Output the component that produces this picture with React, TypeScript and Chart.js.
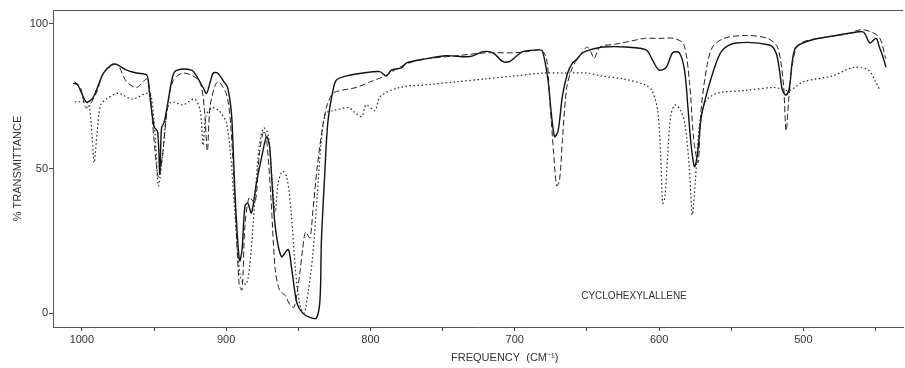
import React, { useEffect, useRef } from "react";
import { Chart, registerables } from "chart.js";

Chart.register(...registerables);

// Frequency (cm^-1) and % transmittance for each trace
const solidFreq = [1006, 1003, 997, 993, 990, 985, 979, 976, 969, 962, 955, 953.6, 950, 947.5, 946, 944.8, 943, 941, 937, 934, 924, 920.6, 916, 913.6, 911, 909, 906, 901, 899, 896.5, 895.4, 894, 892, 890.6, 889, 887, 885, 882.5, 879, 875, 872, 870, 868.6, 866, 861.7, 857, 854.8, 851, 847, 842, 837.5, 835, 834, 831.7, 829.6, 826, 823.6, 816.7, 805, 793.6, 789, 785.5, 778.6, 775, 761, 747.5, 731, 722, 715, 708.5, 703.6, 699, 694.5, 683, 680.7, 677, 674.7, 672.4, 670, 667, 663.4, 660, 657.6, 653, 648, 639, 623, 609, 604.6, 600, 595, 590.6, 586, 582.4, 580, 578, 575.5, 573.4, 571, 567.5, 560.5, 556, 546.7, 523.5, 519, 516.6, 514.5, 512, 509.7, 507.6, 505, 493.8, 477.4, 461, 457.8, 454, 449.6, 447.4, 445, 442.8];
const solidT = [79.5, 79, 73, 74, 77, 83, 86, 86, 84, 83, 82.3, 78, 64.5, 62.7, 48, 64, 66, 71, 82, 84, 84, 82, 78, 76, 80, 83, 83, 79.6, 78, 70, 60, 42.5, 25, 18, 22, 37, 38, 34.6, 45, 55, 61, 58, 48, 30, 19.5, 22, 16, 3.5, 0, -1.5, -1.7, 4.5, 25, 48, 65.7, 77, 80.6, 82, 83, 83.5, 82, 84, 84.8, 86.5, 88, 89, 88.7, 90.4, 90, 87, 87, 88.8, 90.4, 91, 90.4, 80.6, 69, 61, 63, 75, 83, 86.5, 87.5, 90, 91, 92, 92, 91, 87.5, 84, 85, 90, 90, 84, 71, 59, 50.6, 55, 67, 75, 86.5, 91, 93.4, 92.7, 90, 84, 77, 75.4, 78, 87.5, 92, 94.5, 96, 97.3, 96.9, 93.4, 95, 92, 88.7, 85];

const dashedFreq = [1005, 1001, 997, 990, 985, 976, 969, 962, 955, 953, 950, 947, 944, 941, 937, 930, 920, 917, 915, 913, 911, 906, 900, 897, 894, 891, 889, 887, 884, 880, 877, 874, 872, 869, 866, 863, 859, 856, 853, 850, 847, 845, 842, 840, 837, 833, 830, 826, 820, 810, 800, 790, 780, 770, 760, 740, 720, 700, 690, 682, 678, 676, 673, 671, 669, 667, 664, 660, 655, 650, 647, 645, 641, 630, 620, 610, 600, 590, 583, 579, 576, 573, 571, 567, 563, 555, 540, 525, 518, 514, 512, 510, 507, 503, 490, 470, 460, 452, 447, 443];
const dashedT = [80, 78, 71, 76, 83, 86, 80, 78, 81, 77, 60, 47, 55, 70, 80, 83, 81, 78, 70, 56, 72, 80, 76, 66, 40, 10, 8, 30, 40, 38, 55, 63, 60, 40, 15, 8, 6, 3, 2, 10, 22, 28, 26, 35, 50, 65, 72, 76, 77, 78, 80, 82, 85, 87, 88, 89, 90, 90, 90.5, 91, 88, 75, 55, 44, 46, 60, 78, 85, 89, 92, 90, 88, 92, 93, 94, 95, 95, 95, 93, 80, 60, 52, 70, 85, 92, 95, 96, 95, 92, 80, 63, 75, 88, 93, 95, 96.5, 98, 97, 95, 88];

const dottedFreq = [1005, 997, 995, 993, 991.5, 989.5, 987, 983, 975, 965, 955, 952, 949, 947, 944, 941, 938, 930, 922, 918, 916, 914, 910, 905, 900, 897, 894, 890, 886, 883, 880, 877, 874, 871, 868, 866, 864, 861, 858, 855, 852, 849, 846, 843, 840, 837, 834, 831, 826, 815, 810, 806, 803, 797, 793, 780, 760, 740, 720, 700, 680, 665, 650, 640, 625, 610, 605, 601, 599, 597.5, 596, 594, 592, 589, 585, 582, 579, 577, 575, 572, 568, 560, 540, 520, 510, 500, 480, 465, 455, 450, 447];
const dottedT = [73, 73, 72, 62, 52, 62, 72, 74, 76, 74, 76, 75, 60, 44, 55, 70, 73, 72, 74, 70, 58, 68, 71, 70, 66, 55, 35, 12, 10, 20, 40, 58, 64, 62, 45, 35, 45, 49, 47, 35, 15, 3, 0, 8, 20, 40, 60, 69, 70, 71, 69, 68, 72, 70, 75, 78, 79, 80, 81, 82, 83, 83, 83, 82, 81, 79, 77, 70, 55, 38, 40, 55, 68, 72, 70, 65, 50, 34, 45, 65, 73, 76, 77, 78, 77, 80, 82, 85, 84, 80, 77];

const xTickValues = [1000, 950, 900, 850, 800, 750, 700, 650, 600, 550, 500, 450];
const yTickValues = [0, 50, 100];
const compoundName = "CYCLOHEXYLALLENE";
const compoundFreq = 654;
const compoundT = 6;
const xTitle = "FREQUENCY  (CM\u207B\u00B9)";
const yTitle = "% TRANSMITTANCE";

const toPoints = (xs: number[], ys: number[]) => xs.map((x, i) => ({ x, y: ys[i] }));

const extras = {
  id: "extras",
  afterDatasetsDraw(chart: any) {
    const { ctx, chartArea, scales } = chart;
    ctx.save();
    ctx.strokeStyle = "#555";
    ctx.lineWidth = 1;
    ctx.setLineDash([]);
    ctx.beginPath();
    ctx.moveTo(chartArea.left, chartArea.top + 0.5);
    ctx.lineTo(chartArea.right, chartArea.top + 0.5);
    ctx.stroke();
    ctx.fillStyle = "#333";
    ctx.font = "10px 'Liberation Sans', sans-serif";
    ctx.textBaseline = "middle";
    ctx.textAlign = "left";
    ctx.fillText(compoundName, scales.x.getPixelForValue(compoundFreq), scales.y.getPixelForValue(compoundT));
    // x-axis title, placed as in the original (offset to the right of centre)
    ctx.font = "11px 'Liberation Sans', sans-serif";
    ctx.textAlign = "center";
    ctx.fillText(xTitle, scales.x.getPixelForValue(707), chart.height - 10);
    ctx.restore();
  },
};

export default function App() {
  const ref = useRef<HTMLCanvasElement>(null);
  useEffect(() => {
    const chart = new Chart(ref.current!, {
      type: "line",
      data: {
        datasets: [
          {
            label: "dotted",
            data: toPoints(dottedFreq, dottedT),
            borderColor: "#222",
            borderWidth: 1.2,
            borderDash: [1.5, 2.5],
            pointRadius: 0,
            tension: 0.3,
          },
          {
            label: "dashed",
            data: toPoints(dashedFreq, dashedT),
            borderColor: "#222",
            borderWidth: 1,
            borderDash: [6, 3],
            pointRadius: 0,
            tension: 0.3,
          },
          {
            label: "solid",
            data: toPoints(solidFreq, solidT),
            borderColor: "#111",
            borderWidth: 1.4,
            pointRadius: 0,
            tension: 0.3,
          },
        ],
      },
      options: {
        animation: false,
        responsive: false,
        maintainAspectRatio: false,
        layout: { padding: { top: 10, right: 2, left: 0, bottom: 0 } },
        plugins: { legend: { display: false }, tooltip: { enabled: false } },
        scales: {
          x: {
            type: "linear",
            reverse: true,
            min: 431,
            max: 1020,
            afterBuildTicks: (s: any) => {
              s.ticks = xTickValues.map((v) => ({ value: v }));
            },
            afterFit: (s: any) => {
              s.height = 41;
            },
            ticks: {
              autoSkip: false,
              maxRotation: 0,
              padding: 2,
              color: "#333",
              font: { family: "'Liberation Sans', sans-serif", size: 11 },
              callback: (v: any) => (Number(v) % 100 === 0 ? String(v) : ""),
            },
            grid: { drawOnChartArea: false, drawTicks: true, tickLength: 4, color: "#444" },
            border: { color: "#555", width: 1 },
          },
          y: {
            min: -4.8,
            max: 104.8,
            afterBuildTicks: (s: any) => {
              s.ticks = yTickValues.map((v) => ({ value: v }));
            },
            afterFit: (s: any) => {
              s.width = 53;
            },
            ticks: {
              padding: 1,
              color: "#333",
              font: { family: "'Liberation Sans', sans-serif", size: 11 },
            },
            grid: { drawOnChartArea: false, drawTicks: true, tickLength: 4, color: "#444" },
            border: { color: "#555", width: 1, dash: [1, 1] },
            title: {
              display: true,
              text: yTitle,
              color: "#333",
              font: { family: "'Liberation Sans', sans-serif", size: 11 },
              padding: { top: 11, bottom: 0 },
            },
          },
        },
      },
      plugins: [extras],
    });
    return () => chart.destroy();
  }, []);
  return (
    <div style={{ position: "absolute", left: 0, top: 0, width: 905, height: 368, background: "#fff" }}>
      <canvas ref={ref} width={905} height={368} style={{ width: 905, height: 368 }} />
    </div>
  );
}
